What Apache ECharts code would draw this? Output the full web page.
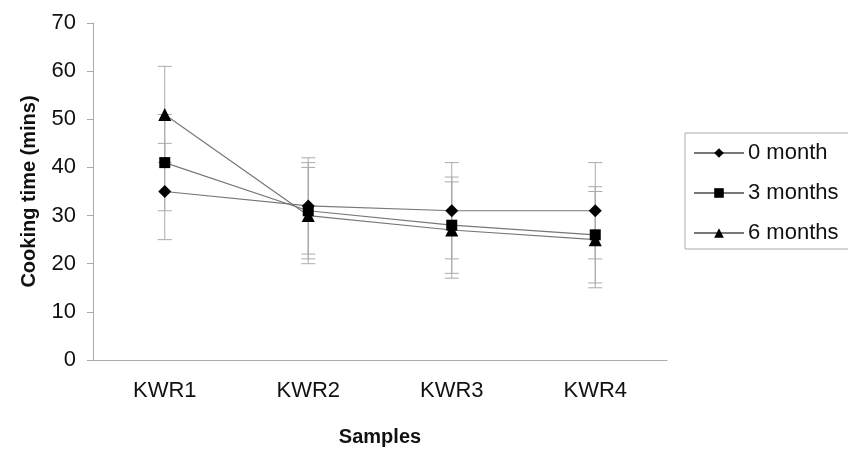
<!DOCTYPE html>
<html>
<head>
<meta charset="utf-8">
<script src="https://cdn.jsdelivr.net/npm/echarts@6/dist/echarts.min.js"></script>
<style>html,body{margin:0;padding:0;background:#fff;}</style>
</head>
<body>
<div id="main" style="width:848px;height:450px;"></div>
<script>
var samples = ['KWR1', 'KWR2', 'KWR3', 'KWR4'];
var month0 = [35, 32, 31, 31];
var month3 = [41, 31, 28, 26];
var month6 = [51, 30, 27, 25];
var err0 = [10, 10, 10, 10];
var err3 = [10, 10, 10, 10];
var err6 = [10, 10, 10, 10];

var myChart = echarts.init(document.getElementById('main'));

function errSeries(name, vals, errs) {
    return {
        type: 'custom',
        name: name + ' err',
        z: 1,
        silent: true,
        data: vals.map(function (v, i) { return [i, v - errs[i], v + errs[i]]; }),
        renderItem: function (params, api) {
            var lo = api.coord([api.value(0), api.value(1)]);
            var hi = api.coord([api.value(0), api.value(2)]);
            var w = 7;
            var st = {stroke: '#aaa', lineWidth: 1};
            return {
                type: 'group',
                children: [
                    {type: 'line', shape: {x1: hi[0], y1: hi[1], x2: lo[0], y2: lo[1]}, style: st},
                    {type: 'line', shape: {x1: hi[0] - w, y1: hi[1], x2: hi[0] + w, y2: hi[1]}, style: st},
                    {type: 'line', shape: {x1: lo[0] - w, y1: lo[1], x2: lo[0] + w, y2: lo[1]}, style: st}
                ]
            };
        }
    };
}

function lineSeries(name, vals, symbol, size) {
    return {
        type: 'line',
        name: name,
        data: vals,
        z: 3,
        symbol: symbol,
        symbolSize: size,
        showAllSymbol: true,
        lineStyle: {color: '#777', width: 1.2},
        itemStyle: {color: '#000'}
    };
}

var option = {
    backgroundColor: '#fff',
    animation: false,
    textStyle: {fontFamily: 'Liberation Sans, Arial, sans-serif'},
    grid: {left: 93, right: 181, top: 23, bottom: 90, outerBoundsMode: 'none'},
    legend: {
        left: 685,
        top: 133,
        orient: 'vertical',
        data: ['0 month', '3 months', '6 months'],
        itemWidth: 50,
        itemHeight: 12,
        itemGap: 18,
        padding: [9, 12, 5, 8],
        borderColor: '#aaa',
        borderWidth: 1,
        textStyle: {fontSize: 22, color: '#111', padding: [0, 0, 0, -1]}
    },
    xAxis: {
        type: 'category',
        data: samples,
        name: 'Samples',
        nameLocation: 'middle',
        nameGap: 67,
        nameTextStyle: {fontSize: 20, fontWeight: 'bold', color: '#111'},
        axisLine: {lineStyle: {color: '#aaa'}},
        axisTick: {length: 6, lineStyle: {color: '#aaa'}},
        axisLabel: {fontSize: 22, color: '#111', margin: 20}
    },
    yAxis: {
        type: 'value',
        min: 0,
        max: 70,
        interval: 10,
        name: 'Cooking time (mins)',
        nameLocation: 'middle',
        nameGap: 54,
        nameTextStyle: {fontSize: 20, fontWeight: 'bold', color: '#111'},
        splitLine: {show: false},
        axisLine: {show: true, lineStyle: {color: '#aaa'}},
        axisTick: {show: true, length: 6, lineStyle: {color: '#aaa'}},
        axisLabel: {fontSize: 22, color: '#111', margin: 17}
    },
    series: [
        errSeries('0 month', month0, err0),
        errSeries('3 months', month3, err3),
        errSeries('6 months', month6, err6),
        lineSeries('0 month', month0, 'diamond', 13),
        lineSeries('3 months', month3, 'rect', 11),
        lineSeries('6 months', month6, 'triangle', 13)
    ]
};
myChart.setOption(option);
</script>
</body>
</html>
